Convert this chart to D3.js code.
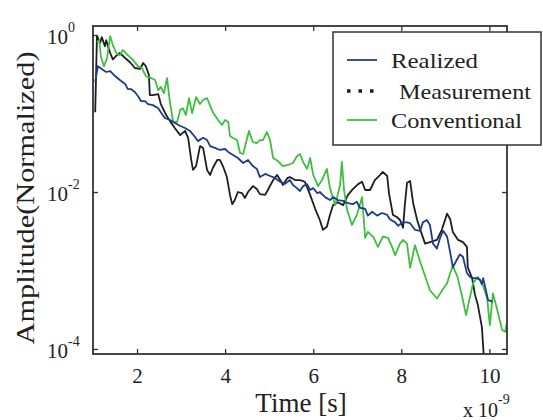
<!DOCTYPE html>
<meta charset="utf-8">
<head>
  <title>Amplitude decay</title>
</head>

<style>
body { margin: 0; background: #fff; }
text { font-family: "Liberation Serif", "Times New Roman", serif; fill: #222; }
.curve { fill: none; stroke-width: 1.8; stroke-linejoin: round; }
</style>

<body>
  <svg width="543" height="420"></svg>

  <script src="https://cdnjs.cloudflare.com/ajax/libs/d3/7.8.5/d3.min.js"></script>

  <script>
// time in units of 1e-9 s, amplitude normalized
var measTime = [1.05,1.09,1.16,1.20,1.27,1.30,1.39,1.45,1.52,1.61,1.73,1.84,1.95,2.07,2.14,2.20,2.27,2.29,2.36,2.48,2.54,2.66,2.75,2.86,2.98,3.09,3.16,3.23,3.27,3.34,3.43,3.50,3.59,3.66,3.72,3.82,3.88,3.95,4.04,4.11,4.16,4.22,4.29,4.38,4.45,4.52,4.63,4.72,4.79,4.91,4.97,5.09,5.18,5.25,5.31,5.41,5.47,5.59,5.70,5.81,5.93,6.04,6.15,6.22,6.31,6.38,6.45,6.56,6.68,6.79,6.90,7.02,7.11,7.18,7.29,7.40,7.52,7.58,7.68,7.72,7.81,7.90,7.97,8.04,8.08,8.13,8.20,8.27,8.36,8.43,8.54,8.65,8.81,8.92,9.04,9.11,9.17,9.29,9.40,9.49,9.51,9.61,9.67,9.74,9.83,9.88]
var measAmp = [0.104,0.98,0.79,0.94,0.72,0.86,0.59,0.49,0.54,0.59,0.51,0.45,0.38,0.37,0.44,0.40,0.31,0.172,0.172,0.177,0.132,0.096,0.080,0.065,0.053,0.060,0.049,0.0256,0.0191,0.0214,0.0385,0.0364,0.0191,0.0165,0.0202,0.0256,0.0256,0.0214,0.0155,0.0092,0.0070,0.0079,0.0100,0.0097,0.0084,0.0100,0.0119,0.0109,0.0094,0.0092,0.0106,0.0142,0.0165,0.0142,0.0123,0.0150,0.0155,0.0142,0.0142,0.0135,0.0092,0.0062,0.0044,0.0033,0.0036,0.0051,0.0068,0.0074,0.0068,0.0092,0.0109,0.0126,0.0135,0.0106,0.0106,0.0142,0.0165,0.0180,0.0160,0.0097,0.0051,0.0048,0.0044,0.0035,0.0068,0.0131,0.0138,0.0072,0.0044,0.0033,0.0022,0.0023,0.00245,0.0033,0.0053,0.0045,0.0031,0.00245,0.0023,0.0020,0.0011,0.00079,0.00050,0.00036,0.00019,0.00007]

var realTime = [1.05,1.11,1.23,1.30,1.39,1.50,1.61,1.73,1.79,1.86,1.95,2.02,2.09,2.18,2.25,2.36,2.48,2.54,2.63,2.75,2.86,2.98,3.09,3.20,3.32,3.38,3.50,3.59,3.66,3.77,3.88,4.00,4.07,4.18,4.29,4.41,4.52,4.63,4.72,4.79,4.91,5.02,5.13,5.25,5.36,5.47,5.54,5.63,5.70,5.77,5.86,5.93,6.00,6.09,6.15,6.27,6.38,6.45,6.56,6.68,6.79,6.90,6.99,7.06,7.18,7.24,7.34,7.45,7.56,7.68,7.74,7.86,7.93,8.02,8.13,8.20,8.31,8.43,8.49,8.58,8.65,8.72,8.81,8.88,8.95,9.04,9.11,9.17,9.27,9.33,9.40,9.49,9.56,9.63,9.72,9.79,9.83,9.86,9.90,9.97,10.08]
var realAmp = [0.252,0.40,0.358,0.338,0.348,0.30,0.267,0.238,0.205,0.205,0.188,0.167,0.144,0.144,0.132,0.128,0.117,0.104,0.0877,0.0826,0.0757,0.0693,0.0654,0.060,0.050,0.0445,0.049,0.0459,0.0385,0.0364,0.0343,0.0353,0.0324,0.0296,0.0271,0.0234,0.0256,0.0214,0.0197,0.0155,0.0170,0.0160,0.0151,0.0135,0.0127,0.0142,0.0123,0.0112,0.0103,0.0119,0.0126,0.0106,0.0112,0.0097,0.0100,0.0086,0.0079,0.0086,0.0079,0.0077,0.0072,0.0070,0.0075,0.0063,0.0061,0.0050,0.0056,0.0050,0.0054,0.0051,0.0045,0.0041,0.0037,0.0041,0.0041,0.0040,0.0033,0.0032,0.0041,0.0044,0.0038,0.0022,0.0019,0.0026,0.0032,0.0027,0.0017,0.0011,0.0014,0.0016,0.0015,0.00093,0.00083,0.00080,0.00080,0.00076,0.00067,0.00080,0.00063,0.00042,0.00040]

var convTime = [1.09,1.14,1.18,1.25,1.32,1.39,1.45,1.54,1.61,1.68,1.79,1.91,2.02,2.11,2.20,2.32,2.41,2.48,2.54,2.61,2.68,2.75,2.82,2.91,2.98,3.04,3.11,3.18,3.25,3.34,3.43,3.50,3.59,3.66,3.72,3.84,3.93,4.00,4.07,4.11,4.18,4.27,4.34,4.41,4.50,4.54,4.63,4.72,4.79,4.86,4.95,5.02,5.09,5.20,5.31,5.43,5.54,5.63,5.70,5.77,5.86,5.93,6.00,6.11,6.20,6.31,6.38,6.50,6.61,6.65,6.70,6.77,6.88,6.99,7.11,7.18,7.24,7.36,7.47,7.58,7.70,7.79,7.86,7.97,8.04,8.13,8.20,8.31,8.43,8.54,8.65,8.81,8.92,9.04,9.11,9.17,9.27,9.38,9.47,9.56,9.63,9.74,9.86,9.95,10.01,10.08,10.17,10.29,10.36,10.42]
var convAmp = [0.81,0.86,0.525,0.40,0.51,0.97,0.746,0.573,0.556,0.644,0.556,0.481,0.40,0.38,0.30,0.283,0.267,0.199,0.218,0.182,0.283,0.136,0.078,0.078,0.111,0.117,0.0957,0.157,0.101,0.162,0.132,0.149,0.157,0.125,0.104,0.0826,0.0714,0.0826,0.078,0.0517,0.0488,0.0459,0.0314,0.0305,0.0488,0.060,0.0433,0.042,0.0459,0.0459,0.0582,0.0459,0.0271,0.0248,0.0214,0.0221,0.0234,0.0286,0.0305,0.0241,0.0197,0.0271,0.0165,0.0119,0.0142,0.0197,0.0112,0.0068,0.0123,0.0241,0.0106,0.0059,0.0038,0.0051,0.0086,0.0026,0.0031,0.0027,0.0020,0.0027,0.0026,0.0020,0.00157,0.0022,0.00245,0.0022,0.00108,0.0021,0.00128,0.00085,0.00056,0.00044,0.00055,0.00069,0.00093,0.00114,0.00085,0.00047,0.00027,0.00046,0.00069,0.00083,0.00063,0.00044,0.00020,0.00051,0.00033,0.000175,0.000166,0.00025]

var xTicks = [2, 4, 6, 8, 10]
var yTicks = [1, 1e-2, 1e-4]
var yTickExp = ['0', '-2', '-4']
var seriesNames = ['Realized', 'Measurement', 'Conventional']
var seriesColors = ['#1f3c8c', '#1e1e1e', '#3fbf3f']

var svg = d3.select('svg')
var plotLeft = 93, plotRight = 507, plotTop = 26, plotBottom = 354

var x = d3.scaleLinear().domain([1, 10.4]).range([plotLeft, plotRight])
var y = d3.scaleLog().domain([Math.pow(10, -4.064), Math.pow(10, 0.115)]).range([plotBottom, plotTop])

svg.append('clipPath').attr('id', 'plotclip')
  .append('rect')
  .attr('x', plotLeft).attr('y', plotTop)
  .attr('width', plotRight - plotLeft).attr('height', plotBottom - plotTop)

var line = d3.line()
  .x(function(d) { return x(d[0]) })
  .y(function(d) { return y(d[1]) })

var series = [
  { name: 'Realized', t: realTime, a: realAmp, color: seriesColors[0] },
  { name: 'Measurement', t: measTime, a: measAmp, color: seriesColors[1] },
  { name: 'Conventional', t: convTime, a: convAmp, color: seriesColors[2] }
]

var plot = svg.append('g').attr('clip-path', 'url(#plotclip)')
// draw order: measurement, conventional, realized on top
;[1, 2, 0].forEach(function(i) {
  var s = series[i]
  plot.append('path')
    .attr('class', 'curve')
    .attr('stroke', s.color)
    .attr('d', line(d3.zip(s.t, s.a)))
})

// axes (ticks point inward, box on)
function styleAxis(g) {
  g.select('.domain').remove()
  g.selectAll('.tick line').attr('stroke', '#333').attr('stroke-width', 1.3)
}

svg.append('g').attr('transform', 'translate(0,' + plotBottom + ')')
  .call(d3.axisBottom(x).tickValues(xTicks).tickSize(-5).tickPadding(14).tickFormat(d3.format('d')))
  .call(styleAxis)
  .selectAll('text')
  .attr('font-size', 21)
  .attr('font-family', '"Liberation Serif", serif')
  .attr('fill', '#222')

svg.append('g').attr('transform', 'translate(0,' + plotTop + ')')
  .call(d3.axisTop(x).tickValues(xTicks).tickSize(-5).tickFormat(''))
  .call(styleAxis)

svg.append('g').attr('transform', 'translate(' + plotLeft + ',0)')
  .call(d3.axisLeft(y).tickValues(yTicks).tickSize(-5).tickFormat(''))
  .call(styleAxis)

svg.append('g').attr('transform', 'translate(' + plotRight + ',0)')
  .call(d3.axisRight(y).tickValues(yTicks).tickSize(-5).tickFormat(''))
  .call(styleAxis)

// y tick labels with superscripts
yTicks.forEach(function(v, i) {
  var t = svg.append('text')
    .attr('x', 47)
    .attr('y', y(v) + 9)
    .attr('font-size', 21)
  t.append('tspan').text('10')
  t.append('tspan').attr('dy', -12).attr('font-size', 14).text(yTickExp[i])
})

// frame
svg.append('rect')
  .attr('x', plotLeft).attr('y', plotTop)
  .attr('width', plotRight - plotLeft).attr('height', plotBottom - plotTop)
  .attr('fill', 'none').attr('stroke', '#333').attr('stroke-width', 1.8)

// axis titles
svg.append('text')
  .attr('x', 301).attr('y', 412)
  .attr('text-anchor', 'middle')
  .attr('font-size', 27)
  .text('Time [s]')

var xe = svg.append('text').attr('x', 463).attr('y', 417).attr('font-size', 20)
xe.append('tspan').text('x 10')
xe.append('tspan').attr('dy', -13).attr('font-size', 14).text('-9')

svg.append('text')
  .attr('transform', 'translate(34,198) rotate(-90)')
  .attr('text-anchor', 'middle')
  .attr('font-size', 25)
  .attr('textLength', 293)
  .attr('lengthAdjust', 'spacingAndGlyphs')
  .text('Amplitude(Normalized)')

// legend
var lg = svg.append('g')
lg.append('rect')
  .attr('x', 333).attr('y', 32).attr('width', 208).attr('height', 113)
  .attr('fill', '#fff').attr('stroke', '#333').attr('stroke-width', 1.5)

var legendY = [60, 91, 120]
var legendTextX = [391, 399, 391]
var legendTextLen = [87, 132, 131]
seriesNames.forEach(function(name, i) {
  var ln = lg.append('line')
    .attr('x1', 347).attr('x2', 377)
    .attr('y1', legendY[i]).attr('y2', legendY[i])
    .attr('stroke', seriesColors[i])
    .attr('stroke-width', 1.8)
  if (name === 'Measurement') {
    ln.attr('stroke-width', 3.5).attr('stroke-dasharray', '3.5,8')
  }
  lg.append('text')
    .attr('x', legendTextX[i]).attr('y', legendY[i] + 8)
    .attr('font-size', 22)
    .attr('textLength', legendTextLen[i])
    .attr('lengthAdjust', 'spacingAndGlyphs')
    .text(name)
})
  </script>
</body>
</html>
